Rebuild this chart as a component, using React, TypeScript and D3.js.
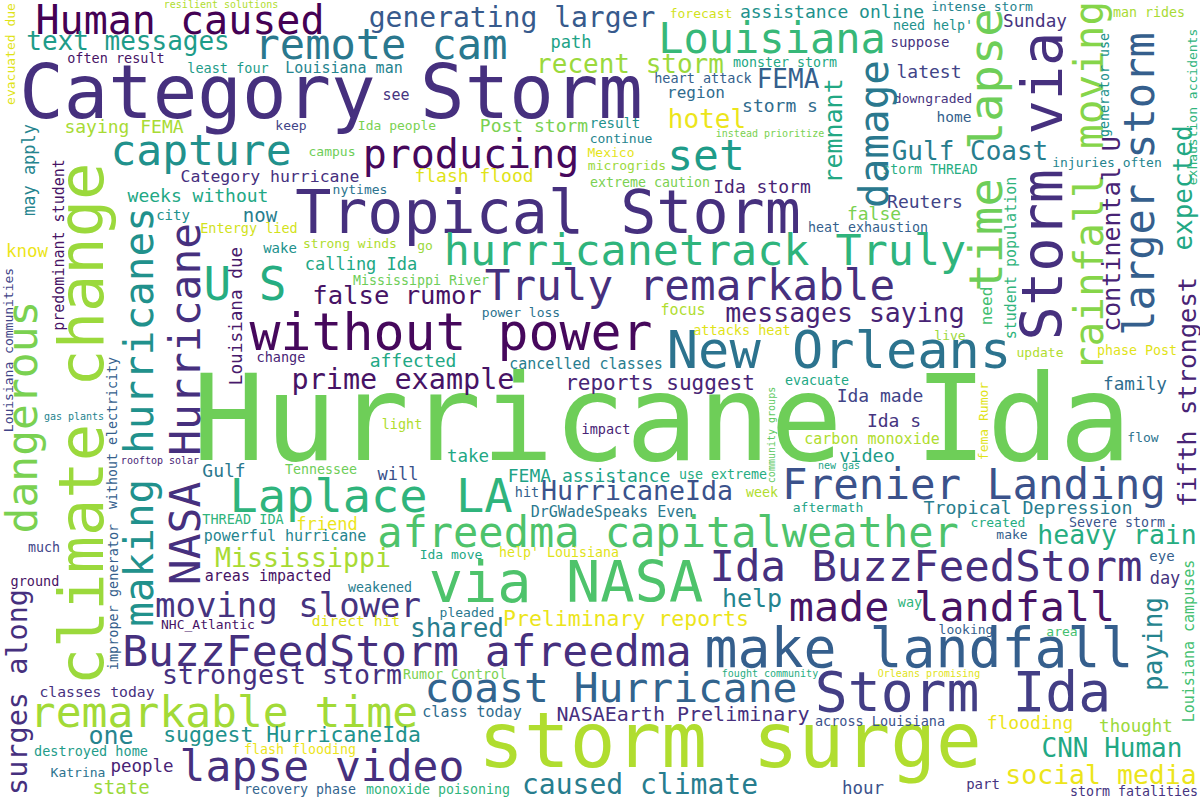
import React from 'react';
import * as d3 from 'd3';

// word cloud layout: [word, x centre, baseline y, font size, tone]
type Word = [string, number, number, number, number];

const horizontalWords: Word[] = [
  ['Human caused', 180, 34, 40, 0.0],
  ['Category Storm', 331, 118, 74, 0.14],
  ['resilient solutions', 221, 8, 10, 0.88],
  ['text messages', 128, 50, 26, 0.55],
  ['often result', 116, 63, 13.5, 0.05],
  ['least four', 228, 73, 13.5, 0.55],
  ['Louisiana man', 344, 73, 15, 0.45],
  ['saying FEMA', 124, 133, 18, 0.87],
  ['keep', 291, 130, 13, 0.2],
  ['capture', 201, 165, 43, 0.5],
  ['Category hurricane', 270, 182, 16.5, 0.14],
  ['weeks without', 198, 202, 18, 0.6],
  ['city', 173, 220, 14, 0.5],
  ['now', 260, 222, 19, 0.42],
  ['Entergy lied', 249, 233, 13.5, 0.93],
  ['know', 27, 257, 17.5, 0.97],
  ['wake', 280, 253, 14, 0.5],
  ['generating larger', 512, 27, 28, 0.28],
  ['remote cam', 381, 59, 42, 0.4],
  ['path', 571, 48, 17, 0.58],
  ['recent storm', 630, 73, 26, 0.85],
  ['see', 396, 100, 15, 0.15],
  ['Ida people', 397, 130, 13, 0.8],
  ['Post storm', 534, 132, 18, 0.8],
  ['campus', 332, 156, 13, 0.78],
  ['producing', 471, 168, 40, 0.02],
  ['flash flood', 474, 182, 18, 0.95],
  ['nytimes', 360, 194, 13, 0.38],
  ['Tropical Storm', 548, 233, 60, 0.14],
  ['strong winds', 350, 248, 13, 0.88],
  ['go', 425, 250, 13, 0.85],
  ['hurricanetrack Truly', 705, 265, 43.4, 0.65],
  ['calling Ida', 361, 270, 17, 0.6],
  ['Mexico', 611, 157, 13, 0.96],
  ['microgrids', 627, 170, 13, 0.85],
  ['continue', 621, 143, 13, 0.45],
  ['result', 615, 128, 14, 0.5],
  ['extreme caution', 650, 187, 13.3, 0.8],
  ['forecast', 701, 18, 13, 0.93],
  ['assistance online', 832, 18, 18, 0.5],
  ['Louisiana', 772, 53, 42, 0.67],
  ['monster storm', 785, 67, 13.3, 0.6],
  ['FEMA', 788, 88, 26, 0.3],
  ['heart attack', 703, 83, 13.5, 0.3],
  ['region', 696, 98, 16, 0.35],
  ['storm s', 780, 112, 18, 0.35],
  ['hotel', 707, 128, 26, 0.97],
  ['instead prioritize', 770, 137, 10, 0.8],
  ['set', 706, 170, 43, 0.55],
  ['Ida storm', 762, 193, 18, 0.1],
  ['false', 874, 220, 18, 0.8],
  ['Reuters', 925, 208, 18, 0.2],
  ['heat exhaustion', 868, 232, 13.3, 0.3],
  ['man rides', 1149, 17, 13.3, 0.87],
  ['intense storm', 982, 11, 13, 0.45],
  ["need help'", 933, 30, 13.3, 0.5],
  ['Sunday', 1035, 27, 17.7, 0.15],
  ['suppose', 920, 47, 14, 0.15],
  ['latest', 929, 78, 18, 0.2],
  ['downgraded', 933, 103, 13, 0.15],
  ['home', 954, 122, 14.5, 0.3],
  ['Gulf Coast', 970, 160, 26, 0.42],
  ['storm THREAD', 930, 174, 13.2, 0.62],
  ['injuries often', 1107, 167, 13, 0.45],
  ['live', 950, 340, 13, 0.85],
  ['update', 1040, 357, 13, 0.88],
  ['phase Post', 1137, 355, 13.3, 0.95],
  ['New Orleans', 839, 368, 52, 0.38],
  ['family', 1135, 390, 17.7, 0.35],
  ['flow', 1143, 442, 13, 0.38],
  ['Hurricane Ida', 662, 460, 120, 0.78],
  ['U S', 245, 300, 46, 0.62],
  ['gas plants', 74, 420, 10, 0.45],
  ['rooftop solar', 160, 464, 10, 0.1],
  ['Gulf', 224, 477, 18, 0.4],
  ['Tennessee', 321, 474, 13.3, 0.78],
  ['Laplace LA', 371, 512, 47, 0.65],
  ['THREAD IDA', 243, 524, 13.5, 0.65],
  ['friend', 327, 530, 17, 0.97],
  ['Mississippi River', 421, 285, 13.3, 0.78],
  ['false rumor', 397, 304, 25.6, 0.05],
  ['Truly remarkable', 690, 300, 42.6, 0.14],
  ['power loss', 521, 317, 13, 0.38],
  ['without power', 451, 350, 51.5, 0.02],
  ['messages saying', 845, 322, 26.5, 0.1],
  ['affected', 413, 367, 18, 0.6],
  ['cancelled classes', 586, 369, 15, 0.42],
  ['prime example', 403, 389, 28.5, 0.05],
  ['reports suggest', 660, 390, 21, 0.1],
  ['focus', 683, 315, 15, 0.88],
  ['attacks heat', 742, 335, 13.5, 0.95],
  ['change', 281, 362, 13.5, 0.1],
  ['evacuate', 817, 385, 13.3, 0.6],
  ['Ida made', 880, 402, 18, 0.2],
  ['Ida s', 894, 427, 18, 0.15],
  ['light', 402, 429, 13.5, 0.88],
  ['impact', 606, 434, 13.5, 0.1],
  ['carbon monoxide', 872, 444, 15, 0.88],
  ['video', 867, 462, 18.5, 0.55],
  ['take', 468, 462, 17.5, 0.6],
  ['FEMA assistance', 589, 482, 18, 0.58],
  ['will', 398, 480, 17, 0.25],
  ['use extreme', 723, 479, 13.3, 0.62],
  ['new gas', 839, 469, 10, 0.58],
  ['hit', 527, 497, 13.5, 0.3],
  ['HurricaneIda', 637, 500, 26.6, 0.25],
  ['week', 762, 497, 13.3, 0.88],
  ['DrGWadeSpeaks Even', 612, 517, 15, 0.4],
  ['aftermath', 828, 512, 13, 0.58],
  ['Frenier Landing', 974, 499, 42.5, 0.25],
  ['Tropical Depression', 1028, 514, 18.3, 0.42],
  ['created', 998, 527, 13, 0.62],
  ['Severe storm', 1117, 527, 13.3, 0.25],
  ['afreedma capitalweather', 668, 547, 42, 0.72],
  ['much', 44, 552, 13.3, 0.2],
  ['ground', 35, 586, 13.5, 0.05],
  ['NHC_Atlantic', 208, 629, 13, 0.05],
  ['moving slower', 288, 617, 34, 0.15],
  ['Mississippi', 303, 567, 26.6, 0.87],
  ['powerful hurricane', 285, 541, 15, 0.45],
  ['areas impacted', 268, 581, 15, 0.05],
  ['BuzzFeedStorm afreedma', 407, 666, 43, 0.14],
  ['strongest storm', 282, 684, 26.6, 0.14],
  ['classes today', 97, 697, 14.7, 0.14],
  ['remarkable time', 224, 727, 43, 0.86],
  ['one', 111, 744, 25, 0.45],
  ['suggest HurricaneIda', 292, 742, 21.4, 0.5],
  ['destroyed home', 91, 756, 13.5, 0.55],
  ['flash flooding', 300, 754, 13.3, 0.97],
  ['people', 142, 772, 17.5, 0.1],
  ['lapse video', 322, 781, 43, 0.14],
  ['Katrina', 78, 777, 13, 0.38],
  ['state', 121, 794, 19, 0.85],
  ['recovery phase', 300, 794, 13.3, 0.32],
  ['Ida move', 451, 559, 13, 0.6],
  ["help' Louisiana", 559, 557, 13.3, 0.95],
  ['via NASA', 566, 602, 57, 0.72],
  ['weakened', 380, 592, 13.3, 0.42],
  ['pleaded', 467, 617, 13, 0.4],
  ['direct hit', 356, 626, 14.7, 0.95],
  ['shared', 457, 637, 26, 0.42],
  ['Preliminary reports', 626, 626, 21.5, 0.97],
  ['Rumor Control', 455, 679, 13.3, 0.8],
  ['coast Hurricane', 611, 702, 41.3, 0.32],
  ['class today', 472, 717, 15, 0.35],
  ['NASAEarth Preliminary', 683, 721, 20, 0.14],
  ['storm surge', 730, 767, 76, 0.88],
  ['monoxide poisoning', 438, 794, 13.3, 0.65],
  ['caused climate', 640, 794, 28, 0.42],
  ['Ida BuzzFeedStorm', 926, 581, 42.3, 0.14],
  ['help', 752, 607, 25, 0.45],
  ['made landfall', 952, 621, 41.7, 0.05],
  ['make landfall', 919, 667, 54.8, 0.3],
  ['fought community', 770, 677, 10, 0.62],
  ['Orleans promising', 929, 677, 10, 0.95],
  ['Storm Ida', 963, 711, 54.7, 0.18],
  ['across Louisiana', 880, 726, 13.5, 0.25],
  ['hour', 863, 794, 17.5, 0.25],
  ['heavy rain', 1117, 544, 26.5, 0.62],
  ['make', 1012, 539, 13, 0.3],
  ['eye', 1162, 561, 14, 0.3],
  ['day', 1165, 584, 17, 0.15],
  ['way', 910, 607, 13.5, 0.65],
  ['looking', 966, 634, 13, 0.3],
  ['area', 1062, 636, 13, 0.7],
  ['flooding', 1030, 729, 18, 0.97],
  ['thought', 1136, 732, 17.5, 0.85],
  ['CNN Human', 1112, 757, 26, 0.6],
  ['social media', 1101, 784, 26.5, 0.97],
  ['part', 983, 789, 14, 0.15],
  ['storm fatalities', 1134, 796, 13.3, 0.15],
];

// vertical words, reading bottom to top: [word, baseline x, centre y, font size, tone]
const verticalWords: Word[] = [
  ['evacuated due', 15, 54, 13, 0.95],
  ['climate change', 103, 424, 62, 0.85],
  ['may apply', 35, 170, 17, 0.45],
  ['predominant student', 64, 245, 15, 0.05],
  ['dangerous', 37, 417, 43, 0.8],
  ['making hurricanes', 153, 417, 41, 0.5],
  ['NASA Hurricane', 200, 404, 43, 0.14],
  ['Louisiana due', 242, 316, 17.7, 0.07],
  ['Louisiana communities', 13, 350, 13, 0.2],
  ['without electricity', 117, 433, 13.3, 0.3],
  ['remnant', 842, 131, 25, 0.6],
  ['damage', 888, 134, 41, 0.4],
  ['Storm via', 1062, 186, 57, 0.14],
  ['time lapse', 1002, 150, 47, 0.78],
  ['rainfall moving', 1103, 186, 41, 0.82],
  ['larger storm', 1154, 184, 42, 0.3],
  ['expected', 1192, 188, 26, 0.6],
  ['exhaustion accidents', 1197, 107, 13, 0.65],
  ['generator use', 1109, 85, 13.3, 0.5],
  ['continental U', 1120, 234, 25, 0.1],
  ['student population', 1016, 258, 15, 0.65],
  ['need', 992, 306, 16, 0.7],
  ['fifth strongest', 1196, 392, 25.5, 0.1],
  ['fema Rumor', 988, 421, 13, 0.95],
  ['community groups', 775, 435, 10, 0.75],
  ['surges along', 27, 692, 28.5, 0.14],
  ['improper generator', 118, 597, 13.5, 0.3],
  ['paying', 1162, 644, 26, 0.45],
  ['Louisiana campuses', 1194, 641, 15, 0.7],
];

const width = 1200;
const height = 800;

export default function App() {
  const x = d3.scaleLinear().domain([0, 1200]).range([0, width]);
  const y = d3.scaleLinear().domain([0, 800]).range([0, height]);
  const fontSize = d3.scaleLinear().domain([0, 120]).range([0, 120]);
  const color = d3.scaleSequential(d3.interpolateViridis).domain([0, 1]);

  return (
    <svg
      width={width}
      height={height}
      style={{ position: 'fixed', left: 0, top: 0, background: '#fff' }}
      fontFamily="'DejaVu Sans Mono', monospace"
    >
      <rect width={width} height={height} fill="#fff" />
      <g>
        {horizontalWords.map(([w, cx, by, s, t], i) => (
          <text
            key={'h' + i}
            x={x(cx)}
            y={y(by)}
            fontSize={fontSize(s)}
            fill={color(t)}
            textAnchor="middle"
          >
            {w}
          </text>
        ))}
      </g>
      <g>
        {verticalWords.map(([w, bx, cy, s, t], i) => (
          <text
            key={'v' + i}
            transform={`translate(${x(bx)},${y(cy)}) rotate(-90)`}
            fontSize={fontSize(s)}
            fill={color(t)}
            textAnchor="middle"
          >
            {w}
          </text>
        ))}
      </g>
    </svg>
  );
}
